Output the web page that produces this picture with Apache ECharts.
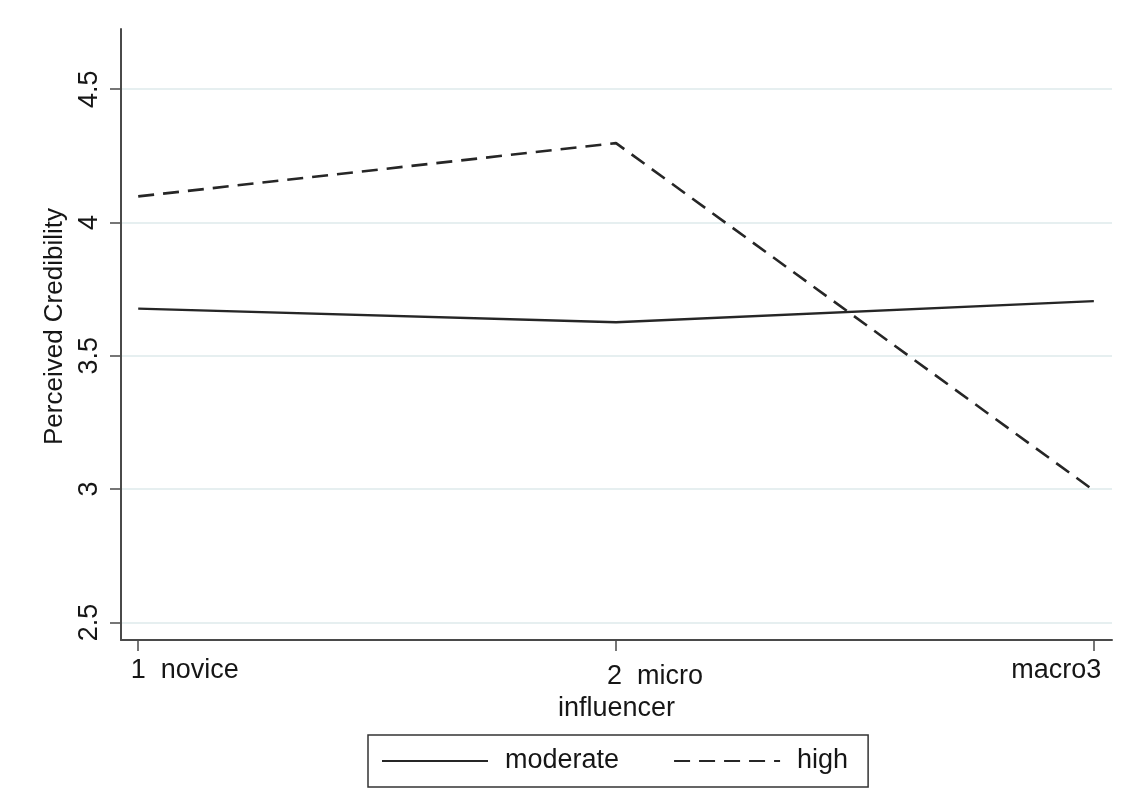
<!DOCTYPE html>
<html><head><meta charset="utf-8">
<script src="https://cdn.jsdelivr.net/npm/echarts@6/dist/echarts.min.js"></script>
<style>html,body{margin:0;padding:0;background:#fff}#c{width:1131px;height:791px}</style>
</head><body><div id="c"></div>
<script>
const xValues = [1, 2, 3];
const xTickLabels = ['1  novice', '2  micro', 'macro3'];
const yTicks = [2.5, 3, 3.5, 4, 4.5];
const seriesNames = ['moderate', 'high'];
const moderate = [3.677, 3.626, 3.705];
const high = [4.098, 4.298, 2.995];

const FONT = "'Liberation Sans', Arial, Helvetica, sans-serif";
const AXIS = '#4a4a4a';
const TXT = '#161616';
const labelStyleKeys = ['a', 'b', 'c'];

const chart = echarts.init(document.getElementById('c'));
chart.setOption({
  backgroundColor: '#fff',
  animation: false,
  grid: { left: 121, right: 19, top: 29, bottom: 151, containLabel: false },
  xAxis: {
    type: 'value', min: 0.964, max: 3.038,
    name: 'influencer', nameLocation: 'middle', nameGap: 45,
    nameTextStyle: { fontFamily: FONT, fontSize: 27, color: TXT },
    axisLine: { show: true, onZero: false, lineStyle: { color: AXIS, width: 2 } },
    axisTick: { show: true, customValues: xValues, length: 11, inside: false, lineStyle: { color: AXIS, width: 1.5 } },
    splitLine: { show: false },
    axisLabel: {
      customValues: xValues, margin: 17, color: TXT, fontFamily: FONT, fontSize: 27,
      formatter: v => { const i = xValues.indexOf(Math.round(v)); return '{' + labelStyleKeys[i] + '|' + xTickLabels[i] + '}'; },
      rich: {
        a: { fontFamily: FONT, fontSize: 27, color: TXT, padding: [0, 0, 0, 93] },
        b: { fontFamily: FONT, fontSize: 27, color: TXT, padding: [6, 0, 0, 78] },
        c: { fontFamily: FONT, fontSize: 27, color: TXT, padding: [0, 75, 0, 0] }
      }
    }
  },
  yAxis: {
    type: 'value', min: 2.434, max: 4.726,
    name: 'Perceived Credibility', nameLocation: 'middle', nameGap: 50, nameRotate: 90,
    nameTextStyle: { fontFamily: FONT, fontSize: 26, color: TXT, padding: [0, 0, 0, 16] },
    axisLine: { show: true, onZero: false, lineStyle: { color: AXIS, width: 2 } },
    axisTick: { show: true, customValues: yTicks, length: 11, lineStyle: { color: AXIS, width: 1.5 } },
    splitLine: { show: true, lineStyle: { color: '#e6eff0', width: 2 } },
    axisLabel: {
      customValues: yTicks, rotate: 90, margin: 18, color: TXT, fontFamily: FONT, fontSize: 27,
      formatter: v => String(v)
    }
  },
  legend: {
    bottom: 4, left: 368,
    data: seriesNames,
    orient: 'horizontal',
    itemWidth: 106, itemHeight: 14, itemGap: 54,
    padding: [11, 20, 11, 13],
    borderColor: '#333', borderWidth: 1.5, borderRadius: 0,
    itemStyle: { opacity: 0 },
    textStyle: { fontFamily: FONT, fontSize: 27, color: TXT, padding: [0, 0, 0, 12], lineHeight: 30 }
  },
  series: [
    {
      name: seriesNames[0], type: 'line', symbol: 'none',
      data: xValues.map((x, i) => [x, moderate[i]]),
      lineStyle: { color: '#262626', width: 2.3, type: 'solid' },
      itemStyle: { color: '#262626' }
    },
    {
      name: seriesNames[1], type: 'line', symbol: 'none',
      data: xValues.map((x, i) => [x, high[i]]),
      lineStyle: { color: '#262626', width: 2.6, type: [16, 9] },
      itemStyle: { color: '#262626' }
    }
  ]
});
</script></body></html>
